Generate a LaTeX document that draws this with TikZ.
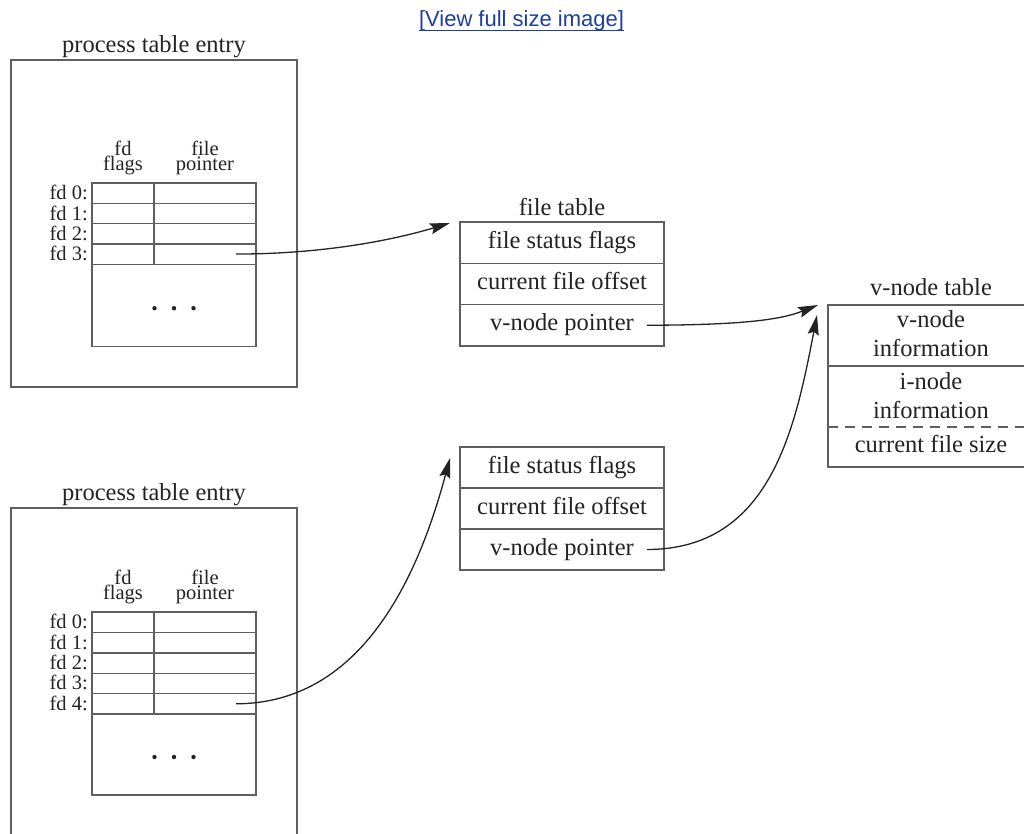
\documentclass[tikz,border=0pt]{standalone}
\usepackage{fontspec}
\setmainfont{Liberation Serif}
\newfontfamily\linkfont{Liberation Sans}
\usetikzlibrary{arrows.meta}
\definecolor{linkblue}{RGB}{30,62,158}
\definecolor{ink}{RGB}{35,35,35}
\definecolor{rulec}{RGB}{95,95,95}
\begin{document}
\begin{tikzpicture}[x=1pt,y=-1pt,
  tl/.style={draw=rulec, line width=1.4pt},
  big/.style={font=\fontsize{24.5}{29}\selectfont, text=ink},
  small/.style={font=\fontsize{20.5}{15}\selectfont, text=ink},
  cell/.style={tl, inner sep=0pt, outer sep=0pt, anchor=north west},
  tcell/.style={cell, big, minimum width=204pt, text height=17pt, text depth=6pt},
  fcell/.style={cell, minimum width=62pt},
  pcell/.style={cell, minimum width=102pt},
  dcell/.style={cell, minimum width=164pt},
  fdlab/.style={small, inner sep=0pt, anchor=base east},
  head/.style={small, align=center, inner sep=0pt, anchor=south},
  title/.style={big, inner sep=0pt, anchor=base},
  vtext/.style={big, align=center, inner sep=0pt},
  arr/.style={draw=ink, line width=1.3pt, -{Stealth[length=20pt,width=11pt,inset=3pt]}},
  dot/.style={fill=ink}
]
\useasboundingbox (0,0) rectangle (1024,833);

% link
\node[font=\linkfont\fontsize{22}{26}\selectfont, text=linkblue, inner sep=0pt, anchor=base] (lnk) at (521.5,26.5) {[View full size image]};
\draw[linkblue, line width=1.3pt] ([yshift=-4pt]lnk.base west) -- ([yshift=-4pt]lnk.base east);

% ---------- top process table entry ----------
\node[title] (tA) at (154,52) {process table entry};
\node[cell, minimum width=286pt, minimum height=327pt] (pA) at (11,60) {};
\node[head] (hAf) at (123,175) {fd\\flags};
\node[head] (hAp) at (205,175) {file\\pointer};
\foreach \i in {0,...,3} {
  \node[fcell, minimum height=20.3pt] (pAf\i) at (92,{183+20.3*\i}) {};
  \node[pcell, minimum height=20.3pt] (pAp\i) at (154,{183+20.3*\i}) {};
  \node[fdlab] (pAl\i) at (88,{193.2+20.3*\i+6.5}) {fd \i:};
}
\node[dcell, minimum height=82pt] (pAd) at (92,264.2) {};
\foreach \dx in {-19.5,0,19.5} \fill[dot] ([xshift=\dx pt,yshift=-3pt]pAd.center) circle (2.2pt);
\coordinate (sA) at ([xshift=31pt]pAp3.center);

% ---------- bottom process table entry ----------
\node[title] (tB) at (154,500) {process table entry};
\draw[tl] (11,840) -- (11,508) -- (297,508) -- (297,840);
\node[head] (hBf) at (123,604) {fd\\flags};
\node[head] (hBp) at (205,604) {file\\pointer};
\foreach \i in {0,...,4} {
  \node[fcell, minimum height=20.4pt] (pBf\i) at (92,{612+20.4*\i}) {};
  \node[pcell, minimum height=20.4pt] (pBp\i) at (154,{612+20.4*\i}) {};
  \node[fdlab] (pBl\i) at (88,{622.2+20.4*\i+6.5}) {fd \i:};
}
\node[dcell, minimum height=81pt] (pBd) at (92,714) {};
\foreach \dx in {-19.5,0,19.5} \fill[dot] ([xshift=\dx pt,yshift=-2.5pt]pBd.center) circle (2.2pt);
\coordinate (sB) at ([xshift=31pt]pBp4.center);

% ---------- file tables ----------
\node[title] (tF) at (562,215) {file table};
\node[tcell, minimum height=41.3pt] (fA1) at (460,222) {file status flags};
\node[tcell, minimum height=41.3pt] (fA2) at (460,263.3) {current file offset};
\node[tcell, minimum height=41.3pt] (fA3) at (460,304.6) {v-node pointer};
\coordinate (vA) at ([xshift=-17pt]fA3.east);

\node[tcell, minimum height=41pt] (fB1) at (460,447) {file status flags};
\node[tcell, minimum height=41pt] (fB2) at (460,488) {current file offset};
\node[tcell, minimum height=41pt] (fB3) at (460,529) {v-node pointer};
\coordinate (vB) at ([xshift=-17pt]fB3.east);

% ---------- v-node table ----------
\node[title] (tV) at (931,295) {v-node table};
\coordinate (vt) at (828,305);
\draw[tl] (1024,305) -- (vt) -- (828,467) -- (1024,467);
\draw[tl] (828,366) -- (1024,366);
\draw[tl, dash pattern=on 10pt off 7pt] (828,427) -- (1024,427);
\node[vtext] (vn1) at (931,334) {v-node\\information};
\node[vtext] (vn2) at (931,395.5) {i-node\\information};
\node[big, inner sep=0pt, text height=17pt, text depth=6pt] (vn3) at (931,447) {current file size};

% ---------- arrow tips ----------
\coordinate (tipA) at ([xshift=-10pt,yshift=-1pt]fA1.north west);
\coordinate (tipB) at ([xshift=-10pt,yshift=-11pt]fB1.north west);
\coordinate (tipV1) at ([xshift=-10pt]vt);
\coordinate (tipV2) at ([xshift=-11pt,yshift=-10pt]vt);

% ---------- connectors ----------
\draw[arr] (sA) .. controls (330,254) and (400,238) .. (tipA);
\draw[arr] (sB) .. controls (365,703.6) and (420,570) .. (tipB);
\draw[arr] (vA) .. controls (740,325) and (780,320) .. (tipV1);
\draw[arr] (vB) .. controls (770,549.5) and (795,430) .. (tipV2);
\end{tikzpicture}
\end{document}
